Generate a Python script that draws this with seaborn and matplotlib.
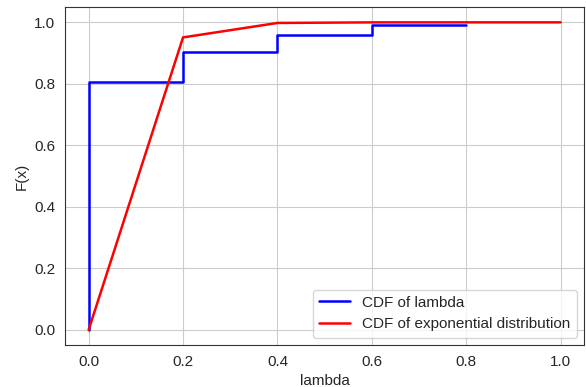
import numpy as np
import pandas as pd
import matplotlib
matplotlib.use("Agg")
import matplotlib.pyplot as plt
import seaborn as sns

# empirical CDF of lambda (step function)
lam_x = [0.0, 0.0, 0.2, 0.4, 0.6, 0.8]
lam_cdf = [0.0, 0.807, 0.905, 0.960, 0.990, 0.992]

# CDF of the fitted exponential distribution
exp_x = [0.0, 0.2, 0.4, 0.6, 0.8, 1.0]
exp_cdf = [0.0, 0.951, 0.998, 0.9999, 1.0, 1.0]

sns.set_style("white")
plt.rcParams['font.family'] = ['Liberation Sans', 'DejaVu Sans']
plt.rcParams['axes.edgecolor'] = '.2'

fig, ax = plt.subplots(figsize=(5.86, 3.87), dpi=100)

sns.lineplot(x=lam_x, y=lam_cdf, drawstyle='steps-post', color='blue',
             linewidth=1.8, label='CDF of lambda', ax=ax, sort=False,
             estimator=None)
sns.lineplot(x=exp_x, y=exp_cdf, color='red', linewidth=1.8,
             label='CDF of exponential distribution', ax=ax, sort=False,
             estimator=None)

ax.grid(True, color='.8')
ax.set_xlabel('lambda', fontsize=11)
ax.set_ylabel('F(x)', fontsize=11)
ax.tick_params(labelsize=11)
ax.set_xticks([0.0, 0.2, 0.4, 0.6, 0.8, 1.0])
ax.set_yticks([0.0, 0.2, 0.4, 0.6, 0.8, 1.0])
ax.legend(loc='lower right', frameon=True, fontsize=11)

fig.subplots_adjust(left=0.111, right=0.997, top=0.982, bottom=0.108)
fig.savefig("out.png")
